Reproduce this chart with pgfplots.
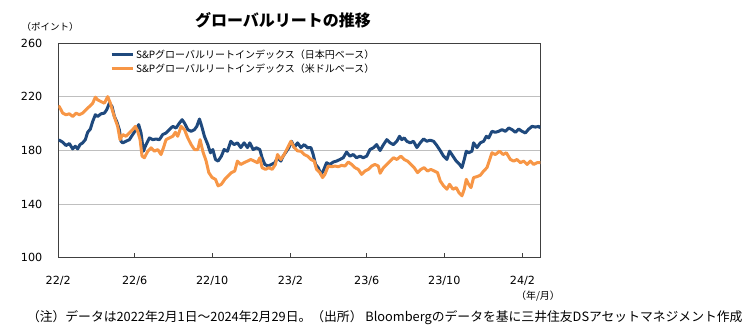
\documentclass[border=0pt]{standalone}
\usepackage{pgfplots}
\pgfplotsset{compat=1.18}
\usepackage{fontspec}
\setmainfont{DejaVu Sans}
\newfontfamily\jp{Noto Sans CJK JP}
\definecolor{jpyblue}{RGB}{31,73,125}
\definecolor{usdorange}{RGB}{247,150,70}
\definecolor{gridgray}{RGB}{191,191,191}
\definecolor{framegray}{RGB}{64,64,64}

\pgfplotstableread{
day value
0 187.5
1.6 187.7
6.9 186.2
12.1 183.7
17.4 185.2
22.6 181.2
26.8 183.2
30.5 181.2
34.1 184.4
38.3 185.7
42.5 188.1
46.2 193.6
50.4 196
54.1 201.7
58.3 206.7
61.9 205.4
67.2 207.4
72.4 207.9
76.1 210.4
80.3 215.3
84.5 212.8
88.2 205.4
91.8 201.7
96 195.6
98.6 186.9
101.3 185.7
106.5 186.9
111.8 188.1
117 191.9
122.2 195.6
126.4 199.3
130.1 193.1
133.8 179.5
138 184.4
143.2 189.4
148.5 188.1
153.7 188.6
159 188.1
164.2 191.9
169.5 193.1
174.7 195.6
180 198
185.2 196.8
190.5 200.5
194.7 203
198.4 200.5
203.6 195.6
208.9 194.3
214.1 195.6
217.8 198
222 203.5
225.6 198
229.8 190.6
235.1 184.4
239.3 178.3
243 180.7
247.2 173.3
251.3 172.1
256.5 175.8
260.7 180.7
266 179.5
271.2 186.9
276.5 184.4
281.7 185.7
287 182.2
292.2 185.7
297.5 182.2
301.1 185.7
306.4 180.7
311.6 182
316.9 180.7
320.5 174.6
324.8 169.6
330 168.4
335.3 169.6
340.5 170.9
344.7 174.6
350 172.1
353.6 175.8
358.9 179.5
362.6 182
366.8 186.9
371 182.2
376.2 185.7
381.5 182.2
386.7 184.4
392 182
397.2 182.2
400.9 176.9
404.6 169.6
408.8 167.2
413 162.2
416.6 164.7
421.9 170.9
427.1 169.6
432.4 171.4
437.6 172.1
442.9 173.3
448.1 174.6
453.4 178.8
458.6 175.8
463.9 177
469.1 174.6
474.4 175.8
479.6 174.6
484.9 175.8
490.1 180.7
495.4 182
500.6 184.4
506 180
511.4 184.4
516.6 188.1
521.9 185.7
527.1 184.4
532.4 186.9
536.6 190.6
540.2 188.1
543.9 189.4
548.1 186.9
553.4 185.7
558.6 186.9
563.9 182.2
569.1 185.7
574.4 188.6
579.6 186.9
584.9 187.7
590.1 186.9
594.3 184.4
599.6 180.7
605.9 175.8
611.1 173.3
615.3 179.5
620.6 175.8
625.8 172.1
631.1 169.6
634.8 167.2
638.4 173.3
641.6 179.5
645.3 178.3
650.5 179.5
653.1 185.7
658.4 182.2
663.6 185.7
668.9 186.9
673.1 190.6
676.8 189.4
682 194.3
687.3 193.6
692.5 194.3
697.8 195.6
703 194.3
708.3 196.8
713.5 195.6
718.8 193.6
724 196
729.3 194.3
734.5 193.1
739.8 196
745 198
750.3 197.5
755.5 198
758 196.8
}\jpydata

\pgfplotstableread{
day value
0 213
1.6 212.8
6.9 207.9
12.1 206.7
17.4 207.4
22.6 205.4
27.9 207.9
33.1 206.7
38.3 207.9
43.6 210.4
48.8 212.8
54.1 215.3
58.3 219.8
61.9 217.8
67.2 216.5
72.4 215.3
77.7 220.2
81.9 215.3
85.6 209.1
89.7 203
93.4 198
97.1 188.1
101.3 191.9
106.5 190.6
111.8 193.1
117 195.6
121.2 198
124.9 194.3
128.6 188.1
131.7 175.8
135.4 174.6
140.7 179.5
145.9 182
151.1 179.5
156.4 180.7
161.6 177
165.3 182
169.5 188.1
174.7 189.4
180 190.6
184.2 193.6
187.8 190.6
193.1 198
198.4 195.6
203.6 189.4
208.9 184.4
214.1 180.7
219.4 180.7
223 188.1
227.2 179.5
232.5 172.1
236.7 163.5
241.9 159.8
247.2 158.5
251.3 153.6
256.5 154.8
261.8 158.5
267 161
272.3 163.5
277.5 164.7
281.7 172.1
287 169.6
292.2 170.9
297.5 172.1
302.7 173.3
308 172.1
313.2 170.9
316.9 174.6
320.5 167.2
325.8 165.9
331 167.2
336.3 165.9
341.5 169.6
344.7 177
350 173.3
355.2 177
360.5 182
365.7 186.9
371 182.2
376.2 179.7
381.5 179.5
386.7 177
392 175.8
397.2 173.3
402.5 172.1
406.1 165.9
411.4 163.5
415.6 159.8
419.3 162.2
424.5 168.4
429.8 167.9
435 168.4
440.3 167.9
445.5 168.9
450.8 168.4
456 171.4
461.3 169.6
466.5 167.2
471.8 165.9
477 162.2
482.3 164.7
487.5 165.9
492.8 168.4
498 169.6
503.3 168.4
506.1 163
511.4 167.2
516.6 169.6
521.9 172.1
527.1 174.6
532.4 173.3
538.7 175.8
543.9 173.3
549.2 172.1
554.4 169.6
559.7 167.2
564.9 163.5
570.2 165.9
575.4 167.2
580.7 164.7
585.9 165.9
591.2 164.7
596.4 163.5
600.6 157.3
605.9 153.6
611.1 151.1
615.3 154.8
620.6 151.1
625.8 152.3
630 148.6
634.8 146.2
638.4 151.1
641.6 158.5
645.3 154.8
649 152.3
653.1 159.8
658.4 160.5
663.6 161.5
668.9 164.7
674.1 167.2
679.4 174.6
682 178.3
687.3 177
694.1 179.5
699.4 177
704.6 178.3
710.9 173.3
716.2 172.1
721.4 173.3
726.7 170.9
731.9 172.1
737.2 169.6
742.4 172.1
747.7 169.6
752.9 170.9
758 171
}\usddata

\begin{document}
\begin{tikzpicture}[x=1pt,y=1pt]
\useasboundingbox (0,0) rectangle (751,-327);
\begin{axis}[
  at={(58.3pt,-257.7pt)}, anchor=south west,
  scale only axis, width=482pt, height=214.4pt,
  xmin=0, xmax=758, ymin=100, ymax=260,
  xtick={0,120,242,365,485,607,730},
  xticklabels={22/2,22/6,22/10,23/2,23/6,23/10,24/2},
  ytick={100,140,180,220,260},
  ymajorgrids,
  grid style={gridgray, line width=1pt},
  axis line style={framegray, line width=1.3pt},
  tick align=inside,
  xtick pos=bottom, ytick pos=left,
  major tick length=5pt,
  xtick style={framegray, line width=1pt},
  ytick style={draw=none},
  tick label style={font=\fontsize{11.2}{13}\selectfont, text=black},
  /pgf/number format/assume math mode=true,
  xticklabel style={yshift=-15pt},
  yticklabel style={xshift=-12.5pt},
  legend style={at={(axis description cs:0.105,0.985)}, anchor=north west,
    draw=none, fill=none, font=\jp\fontsize{10}{12}\selectfont,
    row sep=0pt, inner sep=1pt},
  legend cell align=left,
  legend image code/.code={\draw[#1] (0pt,0pt) -- (21pt,0pt);},
]
\addplot[jpyblue, line width=3pt, line join=round] table[x=day,y=value] {\jpydata};
\addlegendentry{S\&Pグローバルリートインデックス（日本円ベース）}
\addplot[usdorange, line width=3pt, line join=round] table[x=day,y=value] {\usddata};
\addlegendentry{S\&Pグローバルリートインデックス（米ドルベース）}
\end{axis}
\node[font=\jp\bfseries\fontsize{16}{18}\selectfont] at (283,-20.5) {グローバルリートの推移};
\node[font=\jp\fontsize{9.5}{11}\selectfont] at (50,-26.5) {（ポイント）};
\node[font=\jp\fontsize{10}{12}\selectfont] at (538,-296) {（年/月）};
\node[font=\jp\fontsize{12.8}{15}\selectfont, anchor=west, inner sep=0pt] at (26.8,-317.9) {（注）データは2022年2月1日～2024年2月29日。（出所） Bloombergのデータを基に三井住友DSアセットマネジメント作成};
\end{tikzpicture}
\end{document}
